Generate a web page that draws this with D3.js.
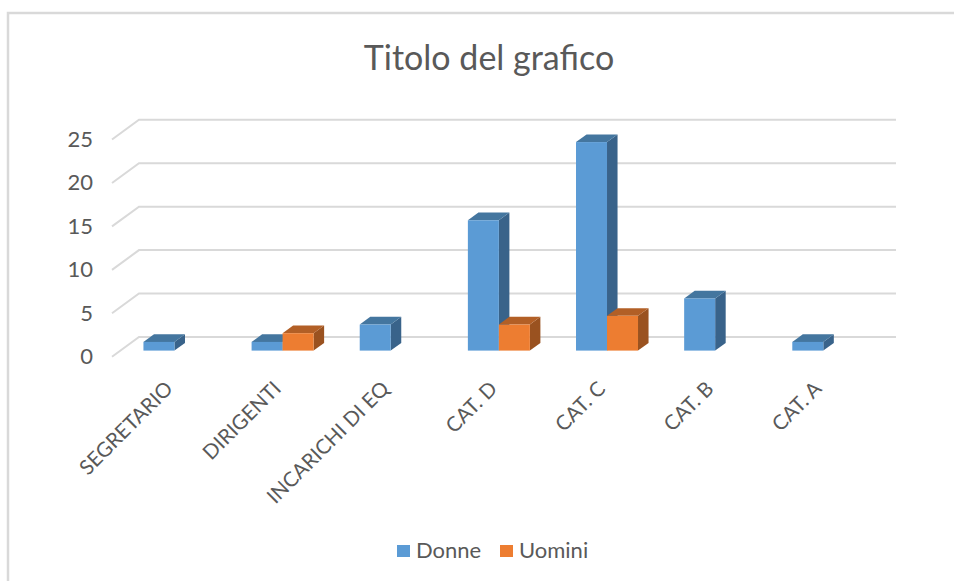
<!doctype html>
<html>
  <head>
    <meta charset="utf-8">
    <script src="https://cdn.jsdelivr.net/npm/d3@7"></script>
    <style>
      body { margin: 0; background: #fff; }
      text { font-family: Lato, sans-serif; fill: #595959; }
    </style>
  </head>
  <body>
    <div id="my_dataviz"></div>
    <script>
      // chart values
      var categories = ["SEGRETARIO", "DIRIGENTI", "INCARICHI DI EQ", "CAT. D", "CAT. C", "CAT. B", "CAT. A"];
      var seriesNames = ["Donne", "Uomini"];
      var donne = [1, 1, 3, 15, 24, 6, 1];
      var uomini = [0, 2, 0, 3, 4, 0, 0];
      var yTicks = [0, 5, 10, 15, 20, 25];

      var width = 954, height = 581;

      var faces = {
        Donne: {front: "#5b9bd5", top: "#44769f", side: "#39638a"},
        Uomini: {front: "#ed7d31", top: "#b25f26", side: "#9a5220"}
      };

      var svg = d3.select("#my_dataviz")
        .append("svg")
        .attr("width", width)
        .attr("height", height)
        .style("display", "block");

      // outer frame: only top and left are visible in the crop
      svg.append("path")
        .attr("d", d3.line()([[8, height], [8, 13], [width, 13]]))
        .attr("fill", "none")
        .attr("stroke", "#d9d9d9")
        .attr("stroke-width", 2.5);

      // scales for the front plane of the floor
      var x = d3.scaleBand().domain(categories).range([112, 869]);
      var y = d3.scaleLinear().domain([0, 25]).range([356.7, 139.5]);
      var inner = d3.scaleBand().domain(seriesNames).range([0, 62]);

      // depth goes from 0 (front) to 1 (back wall)
      var depthX = d3.scaleLinear().domain([0, 1]).range([0, 27]);
      var depthY = d3.scaleLinear().domain([0, 1]).range([0, -19.7]);
      var barFront = 0.31, barBack = 0.7;

      // gridlines on side wall and back wall
      var grid = svg.append("g");
      yTicks.forEach(function(t) {
        grid.append("path")
          .attr("d", d3.line()([
            [x.range()[0], y(t)],
            [x.range()[0] + depthX(1), y(t) + depthY(1)],
            [x.range()[1] + depthX(1), y(t) + depthY(1)]
          ]))
          .attr("fill", "none")
          .attr("stroke", "#d9d9d9")
          .attr("stroke-width", 2);
      });

      // y axis
      var yAxis = svg.append("g")
        .attr("transform", "translate(103,0)")
        .call(d3.axisLeft(y).tickValues(yTicks).tickSize(0).tickPadding(10));
      yAxis.select(".domain").remove();
      yAxis.selectAll("text")
        .attr("font-size", 22)
        .style("font-family", "Lato, sans-serif");

      // x axis with slanted labels
      var xAxis = svg.append("g")
        .attr("transform", "translate(0,372)")
        .call(d3.axisBottom(x).tickSize(0));
      xAxis.select(".domain").remove();
      xAxis.selectAll("text")
        .attr("font-size", 20.5)
        .style("font-family", "Lato, sans-serif")
        .attr("text-anchor", "end")
        .attr("dy", 0)
        .attr("y", 0)
        .attr("transform", "translate(8,18) rotate(-45)");

      // one 3d bar: side, top, then front
      function drawBar(g, left, w, value, c) {
        var f = barFront, b = barBack;
        var top = y(value), bottom = y(0);
        var line = d3.line();
        var fx = function(px, t) { return px + depthX(t); };
        var fy = function(py, t) { return py + depthY(t); };

        g.append("path")
          .attr("d", line([
            [fx(left + w, f), fy(top, f)],
            [fx(left + w, b), fy(top, b)],
            [fx(left + w, b), fy(bottom, b)],
            [fx(left + w, f), fy(bottom, f)]
          ]) + "Z")
          .attr("fill", c.side);
        g.append("path")
          .attr("d", line([
            [fx(left, f), fy(top, f)],
            [fx(left, b), fy(top, b)],
            [fx(left + w, b), fy(top, b)],
            [fx(left + w, f), fy(top, f)]
          ]) + "Z")
          .attr("fill", c.top);
        g.append("rect")
          .attr("x", fx(left, f))
          .attr("y", fy(top, f))
          .attr("width", w)
          .attr("height", bottom - top)
          .attr("fill", c.front);
      }

      var bars = svg.append("g");
      categories.forEach(function(cat, i) {
        var start = x(cat) + (x.bandwidth() - inner.range()[1]) / 2;
        if (donne[i] > 0) drawBar(bars, start + inner("Donne"), inner.bandwidth(), donne[i], faces.Donne);
        if (uomini[i] > 0) drawBar(bars, start + inner("Uomini"), inner.bandwidth(), uomini[i], faces.Uomini);
      });

      // title
      svg.append("text")
        .attr("x", 489)
        .attr("y", 70)
        .attr("text-anchor", "middle")
        .attr("font-size", 34)
        .text("Titolo del grafico");

      // legend
      var legendX = d3.scaleOrdinal().domain(seriesNames).range([397, 500]);
      var legend = svg.selectAll(".legend")
        .data(seriesNames)
        .enter()
        .append("g")
        .attr("class", "legend")
        .attr("transform", function(d) { return "translate(" + legendX(d) + ",545)"; });
      legend.append("rect")
        .attr("width", 13)
        .attr("height", 12)
        .attr("fill", function(d) { return faces[d].front; });
      legend.append("text")
        .attr("x", 19)
        .attr("y", 13)
        .attr("font-size", 22)
        .text(function(d) { return d; });
    </script>
  </body>
</html>
